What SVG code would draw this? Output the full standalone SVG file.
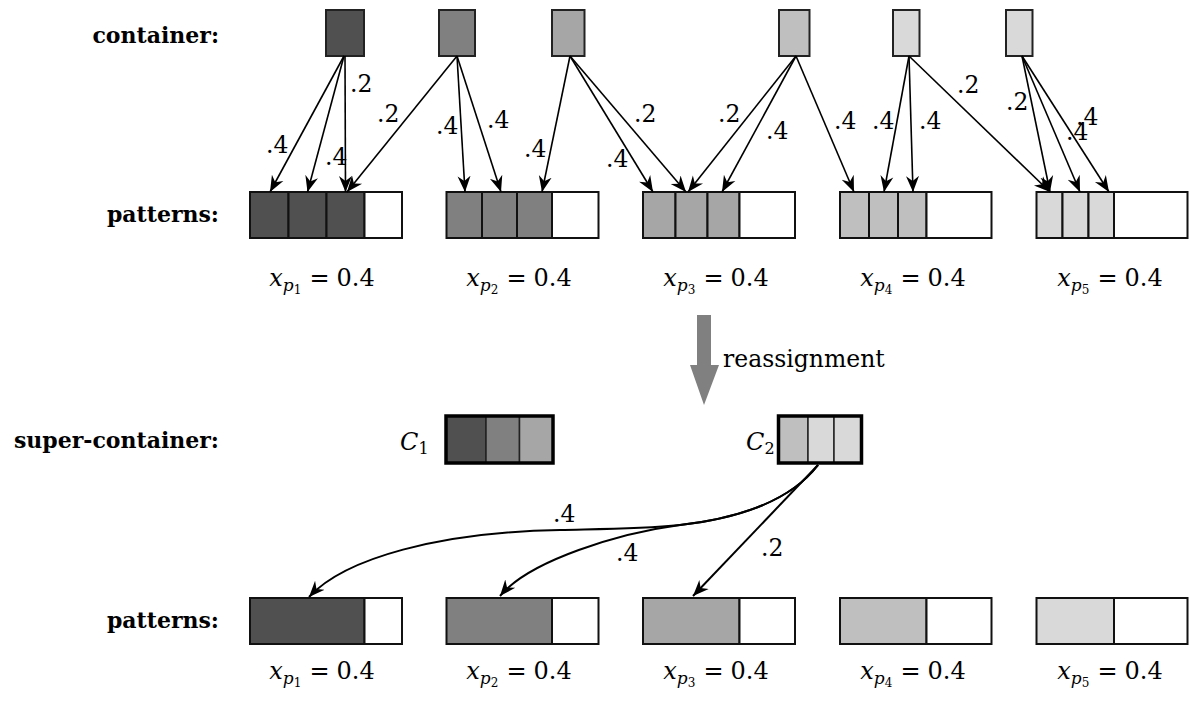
<svg xmlns="http://www.w3.org/2000/svg" width="1189" height="705" viewBox="0 0 1189 705">
<style>
text{font-family:"DejaVu Serif","Liberation Serif",serif;fill:#000}
.lbl{font-weight:bold;font-size:22px;text-anchor:end}
.w{font-size:23.5px}
.m{font-size:24px;text-anchor:middle}
.it{font-style:italic}
.cell{stroke:#111;stroke-width:2}
.cont{stroke:#222;stroke-width:2}
.edge{fill:none;stroke:#000;stroke-width:1.6;marker-end:url(#ah)}
.edge2{fill:none;stroke:#000;stroke-width:2;marker-end:url(#ah)}
.c1{fill:#505050}.c2{fill:#808080}.c3{fill:#a6a6a6}.c4{fill:#bfbfbf}.c5{fill:#d9d9d9}.wh{fill:#fff}
</style>
<defs>
<marker id="ah" markerUnits="userSpaceOnUse" markerWidth="18" markerHeight="16" viewBox="0 0 18 16" refX="16" refY="8" orient="auto">
<path d="M0,1.5 L16,8 L0,14.5 L5,8 Z" fill="#000"/>
</marker>
</defs>
<rect width="1189" height="705" fill="#fff"/>

<g id="row-labels">
<text class="lbl" x="219" y="43">container:</text>
<text class="lbl" x="219" y="222">patterns:</text>
<text class="lbl" x="219" y="448">super-container:</text>
<text class="lbl" x="219" y="628">patterns:</text>
</g>

<g id="containers">
<rect id="container1" class="cont c1" x="326" y="10" width="38" height="46"/>
<rect id="container2" class="cont c2" x="439" y="10" width="36" height="46"/>
<rect id="container3" class="cont c3" x="552" y="10" width="32.5" height="46"/>
<rect id="container4" class="cont c4" x="779" y="10" width="30.5" height="46"/>
<rect id="container5" class="cont c5" x="893" y="10" width="26.5" height="46"/>
<rect id="container6" class="cont c5" x="1006" y="10" width="26.5" height="46"/>
</g>

<g id="patterns-top">
<g id="pt1"><rect class="cell c1" x="250" y="192" width="38.5" height="46"/><rect class="cell c1" x="288.5" y="192" width="38" height="46"/><rect class="cell c1" x="326.5" y="192" width="38" height="46"/><rect class="cell wh" x="364.5" y="192" width="37.5" height="46"/></g>
<g id="pt2"><rect class="cell c2" x="446.5" y="192" width="35.5" height="46"/><rect class="cell c2" x="482" y="192" width="35" height="46"/><rect class="cell c2" x="517" y="192" width="35" height="46"/><rect class="cell wh" x="552" y="192" width="46.5" height="46"/></g>
<g id="pt3"><rect class="cell c3" x="643" y="192" width="32.5" height="46"/><rect class="cell c3" x="675.5" y="192" width="32" height="46"/><rect class="cell c3" x="707.5" y="192" width="32" height="46"/><rect class="cell wh" x="739.5" y="192" width="55.5" height="46"/></g>
<g id="pt4"><rect class="cell c4" x="840" y="192" width="29" height="46"/><rect class="cell c4" x="869" y="192" width="29" height="46"/><rect class="cell c4" x="898" y="192" width="28.5" height="46"/><rect class="cell wh" x="926.5" y="192" width="65" height="46"/></g>
<g id="pt5"><rect class="cell c5" x="1036.5" y="192" width="26" height="46"/><rect class="cell c5" x="1062.5" y="192" width="26" height="46"/><rect class="cell c5" x="1088.5" y="192" width="25.5" height="46"/><rect class="cell wh" x="1114" y="192" width="73.5" height="46"/></g>
</g>

<g id="connectors-top">
<line class="edge" x1="344" y1="56" x2="270" y2="192"/>
<line class="edge" x1="344" y1="56" x2="307.5" y2="192"/>
<line class="edge" x1="345" y1="56" x2="345.5" y2="192"/>
<line class="edge" x1="457" y1="56" x2="347" y2="192"/>
<line class="edge" x1="457" y1="56" x2="465" y2="192"/>
<line class="edge" x1="457" y1="56" x2="501" y2="192"/>
<line class="edge" x1="570" y1="56" x2="542" y2="192"/>
<line class="edge" x1="570" y1="56" x2="653" y2="192"/>
<line class="edge" x1="570" y1="56" x2="686" y2="192"/>
<line class="edge" x1="796" y1="56" x2="688" y2="192"/>
<line class="edge" x1="796" y1="56" x2="722" y2="192"/>
<line class="edge" x1="796" y1="56" x2="854" y2="192"/>
<line class="edge" x1="909" y1="56" x2="884" y2="192"/>
<line class="edge" x1="909" y1="56" x2="913" y2="192"/>
<line class="edge" x1="909" y1="56" x2="1050" y2="192"/>
<line class="edge" x1="1022" y1="56" x2="1050" y2="192"/>
<line class="edge" x1="1022" y1="56" x2="1080" y2="192"/>
<line class="edge" x1="1022" y1="56" x2="1109" y2="192"/>
</g>

<g id="weights-top" class="w">
<text x="266" y="153">.4</text>
<text x="325" y="165">.4</text>
<text x="350" y="92">.2</text>
<text x="377" y="122">.2</text>
<text x="436" y="134">.4</text>
<text x="487" y="128">.4</text>
<text x="524" y="157">.4</text>
<text x="606" y="167">.4</text>
<text x="634" y="122">.2</text>
<text x="718" y="122">.2</text>
<text x="766" y="139">.4</text>
<text x="834" y="129">.4</text>
<text x="872" y="129">.4</text>
<text x="919" y="129">.4</text>
<text x="957" y="93">.2</text>
<text x="1006" y="110">.2</text>
<text x="1066" y="140">.4</text>
<text x="1076" y="125">.4</text>
</g>

<g id="x-labels-top" class="m">
<text x="322" y="286"><tspan class="it">x</tspan><tspan class="it" font-size="17" dy="5">p</tspan><tspan font-size="12" dy="3">1</tspan><tspan dy="-8" dx="8">=</tspan><tspan dx="7">0.4</tspan></text>
<text x="519" y="286"><tspan class="it">x</tspan><tspan class="it" font-size="17" dy="5">p</tspan><tspan font-size="12" dy="3">2</tspan><tspan dy="-8" dx="8">=</tspan><tspan dx="7">0.4</tspan></text>
<text x="716" y="286"><tspan class="it">x</tspan><tspan class="it" font-size="17" dy="5">p</tspan><tspan font-size="12" dy="3">3</tspan><tspan dy="-8" dx="8">=</tspan><tspan dx="7">0.4</tspan></text>
<text x="913" y="286"><tspan class="it">x</tspan><tspan class="it" font-size="17" dy="5">p</tspan><tspan font-size="12" dy="3">4</tspan><tspan dy="-8" dx="8">=</tspan><tspan dx="7">0.4</tspan></text>
<text x="1110" y="286"><tspan class="it">x</tspan><tspan class="it" font-size="17" dy="5">p</tspan><tspan font-size="12" dy="3">5</tspan><tspan dy="-8" dx="8">=</tspan><tspan dx="7">0.4</tspan></text>
</g>

<g id="reassignment">
<path d="M697,315 H711 V365 H719 L704,405 L690,365 H697 Z" fill="#808080"/>
<text x="723" y="367" font-size="23.5">reassignment</text>
</g>

<g id="superC1">
<text x="400" y="450" font-size="24"><tspan class="it">C</tspan><tspan font-size="16" dy="4">1</tspan></text>
<rect class="c1" x="446" y="416" width="40" height="47" stroke="#222" stroke-width="1.5"/>
<rect class="c2" x="486" y="416" width="33.5" height="47" stroke="#222" stroke-width="1.5"/>
<rect class="c3" x="519.5" y="416" width="33.5" height="47" stroke="#222" stroke-width="1.5"/>
<rect x="446" y="416" width="107" height="47" fill="none" stroke="#000" stroke-width="3.5"/>
</g>
<g id="superC2">
<text x="746" y="450" font-size="24"><tspan class="it">C</tspan><tspan font-size="16" dy="4">2</tspan></text>
<rect class="c4" x="778.5" y="416" width="29.5" height="47" stroke="#222" stroke-width="1.5"/>
<rect class="c5" x="808" y="416" width="26" height="47" stroke="#222" stroke-width="1.5"/>
<rect class="c5" x="834" y="416" width="27.5" height="47" stroke="#222" stroke-width="1.5"/>
<rect x="778.5" y="416" width="83" height="47" fill="none" stroke="#000" stroke-width="3.5"/>
</g>

<g id="patterns-bottom">
<g id="pb1"><rect class="cell c1" x="250" y="598" width="114.5" height="46"/><rect class="cell wh" x="364.5" y="598" width="37.5" height="46"/></g>
<g id="pb2"><rect class="cell c2" x="446.5" y="598" width="105.5" height="46"/><rect class="cell wh" x="552" y="598" width="46.5" height="46"/></g>
<g id="pb3"><rect class="cell c3" x="643" y="598" width="96.5" height="46"/><rect class="cell wh" x="739.5" y="598" width="55.5" height="46"/></g>
<g id="pb4"><rect class="cell c4" x="840" y="598" width="86.5" height="46"/><rect class="cell wh" x="926.5" y="598" width="65" height="46"/></g>
<g id="pb5"><rect class="cell c5" x="1036.5" y="598" width="77.5" height="46"/><rect class="cell wh" x="1114" y="598" width="73.5" height="46"/></g>
</g>

<g id="connectors-bottom">
<path class="edge2" d="M818,465 C795,495 750,517 680,525 C640,529 600,529 560,530 C440,532 345,558 309,597"/>
<path class="edge2" d="M818,465 C795,495 750,517 680,525 C620,533 530,560 500,596"/>
<line class="edge2" x1="818" y1="465" x2="693" y2="596"/>
</g>
<g id="weights-bottom" class="w">
<text x="553" y="522">.4</text>
<text x="616" y="561">.4</text>
<text x="761" y="556">.2</text>
</g>

<g id="x-labels-bottom" class="m">
<text x="322" y="679"><tspan class="it">x</tspan><tspan class="it" font-size="17" dy="5">p</tspan><tspan font-size="12" dy="3">1</tspan><tspan dy="-8" dx="8">=</tspan><tspan dx="7">0.4</tspan></text>
<text x="519" y="679"><tspan class="it">x</tspan><tspan class="it" font-size="17" dy="5">p</tspan><tspan font-size="12" dy="3">2</tspan><tspan dy="-8" dx="8">=</tspan><tspan dx="7">0.4</tspan></text>
<text x="716" y="679"><tspan class="it">x</tspan><tspan class="it" font-size="17" dy="5">p</tspan><tspan font-size="12" dy="3">3</tspan><tspan dy="-8" dx="8">=</tspan><tspan dx="7">0.4</tspan></text>
<text x="913" y="679"><tspan class="it">x</tspan><tspan class="it" font-size="17" dy="5">p</tspan><tspan font-size="12" dy="3">4</tspan><tspan dy="-8" dx="8">=</tspan><tspan dx="7">0.4</tspan></text>
<text x="1110" y="679"><tspan class="it">x</tspan><tspan class="it" font-size="17" dy="5">p</tspan><tspan font-size="12" dy="3">5</tspan><tspan dy="-8" dx="8">=</tspan><tspan dx="7">0.4</tspan></text>
</g>
</svg>
